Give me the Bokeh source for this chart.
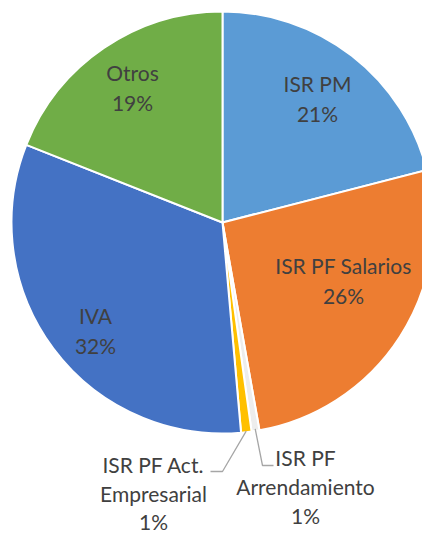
import math
from bokeh.plotting import figure
from bokeh.models import Range1d, ColumnDataSource
from bokeh.core.properties import value
from bokeh.embed import file_html
from bokeh.resources import INLINE

# ---- data ----
categories = ["ISR PM", "ISR PF Salarios", "ISR PF Arrendamiento",
              "ISR PF Act. Empresarial", "IVA", "Otros"]
shares = [21.0, 26.2, 0.6, 0.8, 32.4, 19.0]
colors = ["#5B9BD5", "#ED7D31", "#EDEDED", "#FFC000", "#4472C4", "#70AD47"]
label_lines = [["ISR PM"], ["ISR PF Salarios"], ["ISR PF", "Arrendamiento"],
               ["ISR PF Act.", "Empresarial"], ["IVA"], ["Otros"]]

W, H = 422, 533
p = figure(width=W, height=H, output_backend="svg", toolbar_location=None,
           x_range=Range1d(0, W), y_range=Range1d(0, H), min_border=0)
p.axis.visible = False
p.xgrid.visible = False
p.ygrid.visible = False
p.outline_line_color = None
p.background_fill_color = "white"


def sx(x):
    return x


def sy(y):
    return H - y


cx, cy, r = sx(222), sy(222), 211
total = sum(shares)
starts, ends = [], []
cum = 0.0
for v in shares:
    a0 = cum / total
    cum += v
    a1 = cum / total
    starts.append(math.pi / 2 - a1 * 2 * math.pi)
    ends.append(math.pi / 2 - a0 * 2 * math.pi)

src = ColumnDataSource(dict(start=starts, end=ends, color=colors, cat=categories))
p.wedge(x=cx, y=cy, radius=r, start_angle="start", end_angle="end",
        fill_color="color", line_color="white", line_width=2, source=src)

pct = [f"{round(v / total * 100)}%" for v in shares]

# label anchor positions (screen px) for each category: first line centre, line gap
label_pos = {
    0: (317, 83, 30),
    1: (343, 265, 30),
    2: (305, 457, 29),
    3: (153, 464, 28.5),
    4: (95, 315, 30),
    5: (132, 72, 30),
}
tx, ty, tt = [], [], []
for i, lines in enumerate(label_lines):
    x0, y0, gap = label_pos[i]
    allines = lines + [pct[i]]
    for k, t in enumerate(allines):
        tx.append(sx(x0))
        ty.append(sy(y0 + k * gap))
        tt.append(t)
p.text(x=tx, y=ty, text=tt, text_align="center", text_baseline="middle",
       text_font=value("Lato"), text_font_size="21px", text_color="#404040")

# leader lines for small slices
def mid_point(i, rad):
    a = (starts[i] + ends[i]) / 2
    return cx + rad * math.cos(a), cy + rad * math.sin(a)

ax, ay = mid_point(3, r - 1)
bx, by = mid_point(2, r - 2)
p.multi_line(xs=[[ax, sx(222), sx(210)], [bx, sx(262), sx(273)]],
             ys=[[ay, sy(471), sy(471)], [by, sy(465), sy(465)]],
             line_color="#A6A6A6", line_width=1.3)

open("out.html", "w").write(file_html(p, INLINE))
